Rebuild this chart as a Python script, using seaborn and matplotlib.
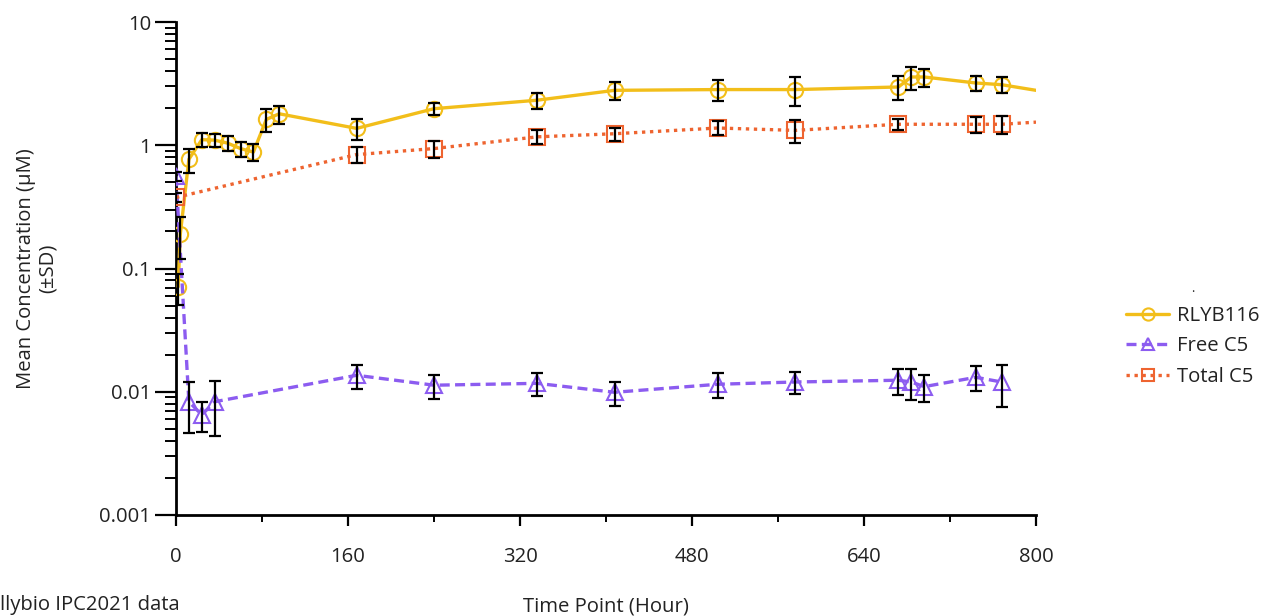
import numpy as np
import pandas as pd
import matplotlib
matplotlib.use("Agg")
import matplotlib.pyplot as plt
import matplotlib.ticker as mticker
import seaborn as sns

# ---- data ----
rlyb_t = [2, 4, 12, 24, 36, 48, 60, 72, 84, 96, 168, 240, 336, 408, 504, 576, 672, 684, 696, 744, 768]
rlyb_y = [0.071, 0.19, 0.77, 1.11, 1.10, 1.04, 0.94, 0.88, 1.62, 1.80, 1.37, 1.98, 2.32, 2.79, 2.83, 2.83, 2.97, 3.58, 3.58, 3.20, 3.10]
rlyb_sd = [0.02, 0.07, 0.17, 0.15, 0.14, 0.15, 0.13, 0.14, 0.35, 0.30, 0.27, 0.22, 0.35, 0.45, 0.55, 0.75, 0.65, 0.75, 0.60, 0.45, 0.45]
rlyb_end = (800, 2.79)

free_t = [0, 12, 24, 36, 168, 240, 336, 408, 504, 576, 672, 684, 696, 744, 768]
free_y = [0.56, 0.0083, 0.0065, 0.0083, 0.0136, 0.0113, 0.0117, 0.0099, 0.0115, 0.0120, 0.0124, 0.0120, 0.0110, 0.0131, 0.0120]
free_sd = [0.05, 0.0037, 0.0018, 0.0039, 0.0030, 0.0025, 0.0025, 0.0022, 0.0026, 0.0025, 0.0030, 0.0034, 0.0028, 0.0030, 0.0045]

total_t = [0, 168, 240, 336, 408, 504, 576, 672, 744, 768]
total_y = [0.377, 0.84, 0.94, 1.17, 1.24, 1.38, 1.32, 1.48, 1.48, 1.48]
total_sd = [0.03, 0.12, 0.15, 0.15, 0.15, 0.18, 0.27, 0.16, 0.23, 0.25]
total_end = (800, 1.54)

series_names = ["RLYB116", "Free C5", "Total C5"]
x_ticks = [0, 160, 320, 480, 640, 800]
y_ticks = [0.001, 0.01, 0.1, 1, 10]
y_tick_labels = ["0.001", "0.01", "0.1", "1", "10"]

# ---- style ----
sns.set_theme(style="white")
plt.rcParams["font.family"] = ["Open Sans", "DejaVu Sans"]
plt.rcParams["axes.unicode_minus"] = False

FS = 14.6
YEL = "#F2BE1A"
PUR = "#8C5CF0"
ORA = "#EE6430"
TXT = "#222222"

fig = plt.figure(figsize=(12.62, 6.16), dpi=100)
ax = fig.add_axes([176 / 1262, 1 - 515 / 616, (1036 - 176) / 1262, (515 - 22) / 616])

specs = [
    (rlyb_t, rlyb_y, rlyb_sd, rlyb_end, YEL, "o", "-", series_names[0]),
    (free_t, free_y, free_sd, None, PUR, "^", (0, (3, 1.6)), series_names[1]),
    (total_t, total_y, total_sd, total_end, ORA, "s", (0, (1, 1.4)), series_names[2]),
]

for t, y, sd, end, col, mk, ls, name in specs:
    df = pd.DataFrame({"t": t, "y": y})
    sns.lineplot(data=df, x="t", y="y", ax=ax, color=col, linewidth=2.4, linestyle=ls,
                 marker=mk, markersize=11, markerfacecolor="none", markeredgecolor=col,
                 markeredgewidth=1.5, label=name, sort=True, estimator=None, zorder=3)
    if end is not None:
        de = pd.DataFrame({"t": [t[-1], end[0]], "y": [y[-1], end[1]]})
        sns.lineplot(data=de, x="t", y="y", ax=ax, color=col, linewidth=2.4, linestyle=ls,
                     legend=False, estimator=None, zorder=3)
    ax.errorbar(t, y, yerr=sd, fmt="none", ecolor="black", elinewidth=1.6,
                capsize=4.5, capthick=1.6, zorder=4)

ax.set_yscale("log")
ax.set_ylim(0.001, 10)
ax.set_xlim(0, 800)
ax.set_xticks(x_ticks)
ax.set_xticks([80, 240, 400, 560, 720], minor=True)
ax.set_yticks(y_ticks)
ax.set_yticklabels(y_tick_labels)
ax.yaxis.set_minor_locator(mticker.LogLocator(base=10, subs=np.arange(2, 10)))
ax.yaxis.set_minor_formatter(mticker.NullFormatter())

for s in ["top", "right"]:
    ax.spines[s].set_visible(False)
for s in ["left", "bottom"]:
    ax.spines[s].set_color("black")
    ax.spines[s].set_linewidth(2.0)

ax.tick_params(axis="y", which="major", direction="out", length=15, width=1.6, color="black",
               labelsize=FS, pad=3, left=True)
ax.tick_params(axis="y", which="minor", direction="out", length=8, width=1.4, color="black", left=True)
ax.tick_params(axis="x", which="major", direction="out", length=8, width=1.6, color="black",
               labelsize=FS, pad=15, bottom=True)
ax.tick_params(axis="x", which="minor", direction="out", length=5, width=1.4, color="black", bottom=True)
for lab in ax.get_xticklabels() + ax.get_yticklabels():
    lab.set_color(TXT)

ax.set_xlabel("Time Point (Hour)", fontsize=FS, color=TXT, labelpad=21)
ax.set_ylabel("Mean Concentration (µM)\n(±SD)", fontsize=FS, color=TXT, labelpad=30,
              linespacing=1.1)
ax.grid(False)

leg = ax.legend(title=".", loc="upper left", bbox_to_anchor=(1108 / 1262, 1 - 264 / 616),
                bbox_transform=fig.transFigure, frameon=False, fontsize=FS,
                handlelength=2.1, labelspacing=0.52, handletextpad=0.4, markerscale=0.8)
leg.get_title().set_fontsize(9)
for txt in leg.get_texts():
    txt.set_color(TXT)

fig.text(0.0, 6 / 616, "llybio IPC2021 data", fontsize=FS, color=TXT, ha="left", va="baseline")

fig.savefig("out.png", dpi=100)
